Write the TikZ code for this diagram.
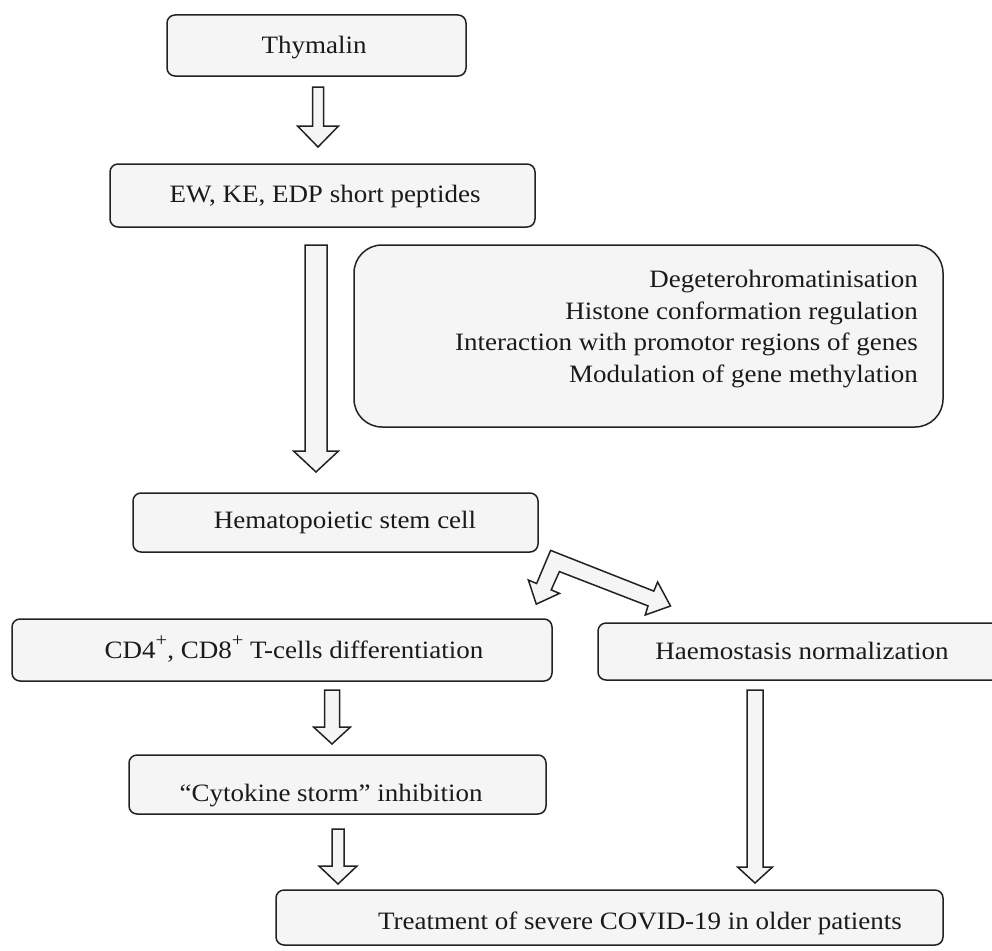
\documentclass[tikz,border=0pt]{standalone}
\usepackage{fontspec}
\setmainfont{Liberation Serif}[FakeStretch=1.08]
\definecolor{linec}{RGB}{34,34,34}
\definecolor{boxfill}{RGB}{245,245,245}
\definecolor{textc}{RGB}{26,26,26}
\newcommand\blockarrow[6]{% cx, top, base, tip, shaft half, head half
  \draw[barrowst] ({#1-#5},#2) -- ({#1+#5},#2) -- ({#1+#5},#3) -- ({#1+#6},#3)
    -- (#1,#4) -- ({#1-#6},#3) -- ({#1-#5},#3) -- cycle;}
\newcommand\supplus{\raisebox{12pt}{\fontsize{19}{19}\selectfont +}}
\begin{document}
\begin{tikzpicture}[x=1pt,y=-1pt,
  box/.style={draw=linec, line width=1.5pt, fill=boxfill, rounded corners=8pt,
    inner sep=0pt, outer sep=0pt},
  lbl/.style={anchor=base, inner sep=0pt, text=textc, font=\fontsize{25}{32}\selectfont},
  rlbl/.style={lbl, anchor=base east},
  barrowst/.style={draw=linec, line width=1.5pt, fill=boxfill, line join=miter}]
\useasboundingbox (0,0) rectangle (992,950);

% boxes
\node[box, minimum width=299pt, minimum height=61pt] (thy) at (316.5,45.5) {};
\node[lbl] (thyT) at (314,54) {Thymalin};

\node[box, minimum width=425pt, minimum height=63pt] (ew) at (322.5,195.5) {};
\node[lbl] (ewT) at (325,202) {EW, KE, EDP short peptides};

\node[box, rounded corners=28pt, minimum width=589pt, minimum height=182pt] (mech) at (648.5,336) {};
\node[rlbl] (m1) at (918,287) {Degeterohromatinisation};
\node[rlbl] (m2) at (918,319) {Histone conformation regulation};
\node[rlbl] (m3) at (918,350) {Interaction with promotor regions of genes};
\node[rlbl] (m4) at (918,382) {Modulation of gene methylation};

\node[box, minimum width=405pt, minimum height=59pt] (hsc) at (335.5,522.5) {};
\node[lbl] (hscT) at (345,528) {Hematopoietic stem cell};

\node[box, minimum width=540pt, minimum height=62pt] (cd) at (282,650) {};
\node[lbl] (cdT) at (294,658) {CD4\supplus, CD8\supplus{} T-cells differentiation};

\node[box, minimum width=408pt, minimum height=57pt] (hae) at (802,651.5) {};
\node[lbl] (haeT) at (802,659) {Haemostasis normalization};

\node[box, minimum width=417pt, minimum height=59pt] (cyt) at (337.5,784.5) {};
\node[lbl] (cytT) at (331,801) {“Cytokine storm” inhibition};

\node[box, minimum width=667pt, minimum height=55pt] (tr) at (609.5,917.5) {};
\node[lbl] (trT) at (640,929) {Treatment of severe COVID-19 in older patients};

% straight block arrows
\blockarrow{318}{87}{126}{147}{5.5}{20.5}
\blockarrow{316}{245}{451}{472}{11}{22.5}
\blockarrow{332}{690}{727}{744}{7.5}{18.5}
\blockarrow{338}{829}{866}{884}{6}{19}
\blockarrow{755}{690}{867}{883}{8}{17.5}

% bent double block arrow
\coordinate (bO) at (550.6,550.4);
\coordinate (bR1) at (653.8,591.1);
\coordinate (bR2) at (657.6,582.0);
\coordinate (bRT) at (670.5,606.0);
\coordinate (bR3) at (645.2,615.0);
\coordinate (bR4) at (648.0,605.9);
\coordinate (bI) at (559.4,571.6);
\coordinate (bL1) at (551.2,589.9);
\coordinate (bL2) at (559.5,593.4);
\coordinate (bLT) at (536.3,604.1);
\coordinate (bL3) at (528.3,580.0);
\coordinate (bL4) at (536.6,583.5);
\draw[barrowst] (bO) -- (bR1) -- (bR2) -- (bRT) -- (bR3) -- (bR4) -- (bI)
  -- (bL1) -- (bL2) -- (bLT) -- (bL3) -- (bL4) -- cycle;
\end{tikzpicture}
\end{document}
